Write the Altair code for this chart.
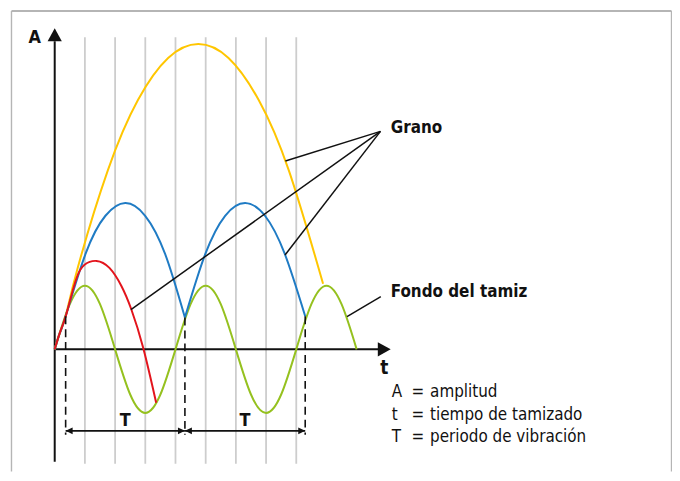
import altair as alt
import pandas as pd

# ---- units: t in vibration periods (T), A in sieve amplitudes ----
W, H = 668, 465
T_DOMAIN = [-0.3868, 5.111]
A_DOMAIN = [(350 - 8 - H) / 64, 5.344]

# sieve bottom (green sine)
sieve_t = [0, 0.125, 0.25, 0.375, 0.5, 0.625, 0.75, 0.875, 1.0, 1.125, 1.25,
           1.375, 1.5, 1.625, 1.75, 1.875, 2.0, 2.125, 2.25, 2.375, 2.5]
sieve_A = [0, 0.71, 1, 0.71, 0, -0.71, -1, -0.71, 0, 0.71, 1, 0.71, 0,
           -0.71, -1, -0.71, 0, 0.71, 1, 0.71, 0]

# grain trajectories
yellow_t = [0, 0.041, 0.0905, 0.189, 0.439, 0.689, 0.939, 1.189, 1.439, 1.689, 1.939, 2.222]
yellow_A = [0, 0.25, 0.52, 1.27, 2.81, 3.92, 4.58, 4.80, 4.58, 3.92, 2.81, 1.03]

blue1_t = [0, 0.041, 0.0905, 0.255, 0.420, 0.584, 0.749, 0.914, 1.078]
blue1_A = [0, 0.25, 0.52, 1.50, 2.10, 2.30, 2.10, 1.50, 0.50]
blue2_t = [1.078, 1.247, 1.411, 1.576, 1.741, 1.905, 2.074]
blue2_A = [0.50, 1.50, 2.10, 2.30, 2.10, 1.50, 0.52]

red_t = [0, 0.041, 0.091, 0.140, 0.189, 0.247, 0.346, 0.453, 0.551, 0.634, 0.733, 0.840]
red_A = [0, 0.25, 0.52, 0.86, 1.16, 1.33, 1.39, 1.28, 1.00, 0.63, 0.02, -0.84]

# vertical grey guide lines
grid_t = [0.25, 0.5, 0.75, 1.0, 1.25, 1.5, 1.75, 2.0]
grid_A = [-1.797, 4.906]

# axes
yaxis_A = [-1.766, 4.844]
yaxis_tip = 5.047
xaxis_t = [0, 2.683]
xaxis_tip = 2.782

# departures / landings (dashed) and period arrows
dash_t = [0.0905, 1.078, 2.074]
dash_top = [0.52, 0.50, 0.52]
dash_bottom = -1.344
period_A = -1.281
period_start = [0.0905, 1.078]
period_end = [1.078, 2.074]
period_label = ["T", "T"]
period_label_t = [0.584, 1.576]
period_label_A = -1.203

# annotation pointers
grano_from = (2.697, 3.427)
grano_to_t = [1.91, 1.907, 0.631]
grano_to_A = [2.96, 1.484, 0.625]
fondo_from = (2.700, 0.828)
fondo_to = (2.420, 0.516)

# texts
legend_sym = ["A", "t", "T"]
legend_eq = ["=", "=", "="]
legend_desc = ["amplitud", "tiempo de tamizado", "periodo de vibración"]
legend_A = [-0.75, -1.117, -1.46]
legend_t = [2.79, 2.955, 3.108]

FONT = "DejaVu Sans Condensed, DejaVu Sans"

xs = alt.Scale(domain=T_DOMAIN, nice=False, zero=False)
ys = alt.Scale(domain=A_DOMAIN, nice=False, zero=False)

def X(f):
    return alt.X(f, type="quantitative", scale=xs, axis=None)

def Y(f):
    return alt.Y(f, type="quantitative", scale=ys, axis=None)

# ---------- data frames ----------
rows = []
for seg, grp, ts, As in [("sieve", "sieve", sieve_t, sieve_A),
                         ("yellow", "yellow", yellow_t, yellow_A),
                         ("blue1", "blue", blue1_t, blue1_A),
                         ("blue2", "blue", blue2_t, blue2_A),
                         ("red", "red", red_t, red_A)]:
    for i, (t, a) in enumerate(zip(ts, As)):
        rows.append({"seg": seg, "grp": grp, "i": i, "t": t, "A": a})
curves = pd.DataFrame(rows)

grid = pd.DataFrame({"t": grid_t, "A1": grid_A[0], "A2": grid_A[1]})
axes_df = pd.DataFrame({"t1": [0, xaxis_t[0]], "t2": [0, xaxis_t[1]],
                        "A1": [yaxis_A[0], 0], "A2": [yaxis_A[1], 0]})
dashes = pd.DataFrame({"t": dash_t, "A1": dash_top, "A2": dash_bottom})
periods = pd.DataFrame({"t1": period_start, "t2": period_end, "A": period_A})
pointers = pd.DataFrame({
    "t1": [grano_from[0]] * 3 + [fondo_from[0]],
    "A1": [grano_from[1]] * 3 + [fondo_from[1]],
    "t2": grano_to_t + [fondo_to[0]],
    "A2": grano_to_A + [fondo_to[1]],
})

UP = "M0,0 L-0.55,1 L0.55,1 Z"
RIGHT = "M0,0 L-1,-0.55 L-1,0.55 Z"
SRIGHT = "M0,0 L-1,-0.48 L-1,0.48 Z"
SLEFT = "M0,0 L1,-0.48 L1,0.48 Z"

one = pd.DataFrame({"k": [0]})

frame_color = "#b5b5b5"
frame = alt.layer(
    alt.Chart(one).mark_rule(color=frame_color, strokeWidth=2).encode(
        x=alt.value(3.5), x2=alt.value(667.5), y=alt.value(1.5)),
    alt.Chart(one).mark_rule(color=frame_color, strokeWidth=1.4).encode(
        x=alt.value(3.5), y=alt.value(1.5), y2=alt.value(H)),
    alt.Chart(one).mark_rule(color=frame_color, strokeWidth=1.4).encode(
        x=alt.value(667.5), y=alt.value(1.5), y2=alt.value(H)),
)

grid_layer = alt.Chart(grid).mark_rule(color="#cdcdcd", strokeWidth=1.8).encode(
    x=X("t"), y=Y("A1"), y2="A2")

axes_layer = alt.Chart(axes_df).mark_rule(color="#111111", strokeWidth=2).encode(
    x=X("t1"), x2="t2", y=Y("A1"), y2="A2")

yarrow = alt.Chart(pd.DataFrame({"t": [0], "A": [yaxis_tip]})).mark_point(
    shape=UP, filled=True, size=676, color="#111111", opacity=1, strokeWidth=0
).encode(x=X("t"), y=Y("A"))
xarrow = alt.Chart(pd.DataFrame({"t": [xaxis_tip], "A": [0]})).mark_point(
    shape=RIGHT, filled=True, size=676, color="#111111", opacity=1, strokeWidth=0
).encode(x=X("t"), y=Y("A"))

curve_layer = alt.Chart(curves).mark_line(interpolate="natural", strokeWidth=2).encode(
    x=X("t"), y=Y("A"),
    color=alt.Color("grp:N", legend=None,
                    scale=alt.Scale(domain=["sieve", "yellow", "blue", "red"],
                                    range=["#95c11f", "#ffc600", "#1f7bc4", "#e3141c"])),
    detail="seg:N",
    order="i:Q")

dash_layer = alt.Chart(dashes).mark_rule(color="#111111", strokeWidth=1.6,
                                         strokeDash=[8, 5]).encode(
    x=X("t"), y=Y("A1"), y2="A2")

period_layer = alt.Chart(periods).mark_rule(color="#111111", strokeWidth=1.6).encode(
    x=X("t1"), x2="t2", y=Y("A"))
heads_r = alt.Chart(periods).mark_point(shape=SRIGHT, filled=True, size=196,
                                        color="#111111", opacity=1, strokeWidth=0).encode(
    x=X("t2"), y=Y("A"))
heads_l = alt.Chart(periods).mark_point(shape=SLEFT, filled=True, size=196,
                                        color="#111111", opacity=1, strokeWidth=0).encode(
    x=X("t1"), y=Y("A"))
period_text = alt.Chart(pd.DataFrame({"t": period_label_t, "A": period_label_A,
                                      "lab": period_label})).mark_text(
    font=FONT, fontSize=18, fontWeight="bold", align="center", baseline="alphabetic",
    color="#111111").encode(x=X("t"), y=Y("A"), text="lab:N")

pointer_layer = alt.Chart(pointers).mark_rule(color="#111111", strokeWidth=1.5).encode(
    x=X("t1"), x2="t2", y=Y("A1"), y2="A2")

labels_bold = alt.Chart(pd.DataFrame({
    "t": [2.782, 2.782], "A": [3.406, 0.82], "lab": ["Grano", "Fondo del tamiz"]
})).mark_text(font=FONT, fontSize=17, fontWeight="bold", align="left",
              baseline="alphabetic", color="#111111").encode(x=X("t"), y=Y("A"), text="lab:N")

axis_A_label = alt.Chart(pd.DataFrame({"t": [-0.165], "A": [4.8125], "lab": ["A"]})).mark_text(
    font=FONT, fontSize=18, fontWeight="bold", align="center", baseline="alphabetic",
    color="#111111").encode(x=X("t"), y=Y("A"), text="lab:N")
axis_t_label = alt.Chart(pd.DataFrame({"t": [2.73], "A": [-0.39], "lab": ["t"]})).mark_text(
    font=FONT, fontSize=19, fontWeight="bold", align="center", baseline="alphabetic",
    color="#111111").encode(x=X("t"), y=Y("A"), text="lab:N")

leg_rows = []
for j in range(3):
    leg_rows.append({"t": legend_t[0], "A": legend_A[j], "lab": legend_sym[j]})
    leg_rows.append({"t": legend_t[1], "A": legend_A[j], "lab": legend_eq[j]})
    leg_rows.append({"t": legend_t[2], "A": legend_A[j], "lab": legend_desc[j]})
legend_layer = alt.Chart(pd.DataFrame(leg_rows)).mark_text(
    font=FONT, fontSize=17, align="left", baseline="alphabetic", color="#111111"
).encode(x=X("t"), y=Y("A"), text="lab:N")

chart = alt.layer(
    frame, grid_layer, axes_layer, yarrow, xarrow, curve_layer, dash_layer,
    period_layer, heads_r, heads_l, period_text, pointer_layer, labels_bold,
    axis_A_label, axis_t_label, legend_layer
).properties(
    width=W, height=H, padding=0, autosize=alt.AutoSizeParams(type="none"),
    background="white"
).configure_view(stroke=None)

chart.save("out.html", embed_options={"renderer": "svg", "actions": False})
